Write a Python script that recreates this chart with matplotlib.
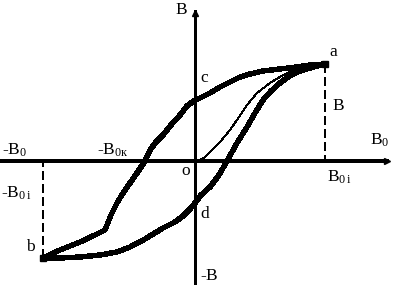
"""
Hysteresis loop sketch: descending and ascending branches plus initial curve.
Coordinates are measured from the origin o, x to the right, y upwards.
"""

import matplotlib
matplotlib.use("Agg")
import matplotlib.pyplot as plt

plt.rcParams['mathtext.fontset'] = 'custom'
plt.rcParams['mathtext.rm'] = 'Liberation Serif'
plt.rcParams['mathtext.it'] = 'Liberation Serif'
plt.rcParams['font.family'] = ['Liberation Serif', 'DejaVu Serif']
plt.rcParams['lines.scale_dashes'] = False

# descending branch a -> c -> -B0k -> b
upper_x = [130, 115, 102, 85, 68, 55, 45, 35, 25, 15, 5, 0, -8, -15,
           -24, -32, -39, -45, -50, -58, -65, -72, -78, -84, -90, -100,
           -115, -125, -135, -152]
upper_y = [97, 96, 94, 92, 90, 87, 84, 79, 74, 68, 63, 61, 55, 46,
           36, 26, 19, 11, 0, -12, -22, -32, -42, -54, -69, -74,
           -81, -85, -89, -97]

# ascending branch b -> d -> a
lower_x = [-152, -135, -115, -95, -78, -65, -50, -32, -20, -12, -5, 0, 6,
           15, 24, 32, 42, 52, 60, 68, 76, 85, 93, 102, 115, 130]
lower_y = [-97, -97, -96, -94, -91, -86, -78, -67, -61, -55, -48, -42, -34,
           -26, -14, 0, 18, 34, 48, 61, 70, 78, 84, 89, 93, 97]

# initial magnetization curve o -> a
init_x = [0, 5, 10, 15, 25, 35, 44, 52, 62, 75, 88, 102, 115, 130]
init_y = [0, 1, 4, 9, 19, 31, 44, 56, 68, 78, 86, 92, 95, 97]

a_pt = (130, 97)
b_pt = (-152, -97)

fig = plt.figure(figsize=(3.99, 2.89), dpi=100)
ax = fig.add_axes([0, 0, 1, 1])
ax.set_xlim(-195, 204)
ax.set_ylim(-128, 161)
ax.axis('off')

# coordinate axes
ax.plot([-195, 192], [0, 0], color='black', lw=1.5, antialiased=False)
ax.plot([0, 0], [-122, 150], color='black', lw=0.8, antialiased=False)
ax.plot([192], [0], marker='>', color='black', ms=5, antialiased=False)
ax.plot([0], [148], marker='^', color='black', ms=5, antialiased=False)

# dashed guides
ax.plot([a_pt[0], a_pt[0]], [a_pt[1], 0], color='black', lw=1.5,
        dashes=(6, 3.5), antialiased=False)
ax.plot([b_pt[0], b_pt[0]], [b_pt[1], 0], color='black', lw=1.5,
        dashes=(6, 3.5), antialiased=False)

# loop
ax.plot(upper_x, upper_y, color='black', lw=3.2, solid_joinstyle='round',
        antialiased=False)
ax.plot(lower_x, lower_y, color='black', lw=3.2, solid_joinstyle='round',
        antialiased=False)
ax.plot(init_x, init_y, color='black', lw=0.7, antialiased=False)
ax.plot(*zip(a_pt, b_pt), linestyle='none', marker='s', ms=4, color='black',
        antialiased=False)

# labels
fs = 12.5
ax.text(-14, 151, 'B', fontsize=fs, ha='center', va='center')
ax.text(138, 109, 'a', fontsize=fs, ha='center', va='center')
ax.text(9, 83, 'c', fontsize=fs, ha='center', va='center')
ax.text(143, 55, 'B', fontsize=fs, ha='center', va='center')
ax.text(175, 16, r'$\mathrm{B_0}$', fontsize=fs, ha='left', va='baseline')
ax.text(-193, 6, r'$\mathrm{‐B_0}$', fontsize=fs, ha='left', va='baseline')
ax.text(-98, 6, r'$\mathrm{‐B_{0к}}$', fontsize=fs, ha='left', va='baseline')
ax.text(-9, -10, 'o', fontsize=fs, ha='center', va='center')
ax.text(132, -21, r'$\mathrm{B_{0\,i}}$', fontsize=fs, ha='left', va='baseline')
ax.text(-194, -37, r'$\mathrm{‐B_{0\,i}}$', fontsize=fs, ha='left', va='baseline')
ax.text(10, -53, 'd', fontsize=fs, ha='center', va='center')
ax.text(-165, -86, 'b', fontsize=fs, ha='center', va='center')
ax.text(5, -119, r'$\mathrm{‐B}$', fontsize=fs, ha='left', va='baseline')

fig.savefig('out.png', dpi=100)
